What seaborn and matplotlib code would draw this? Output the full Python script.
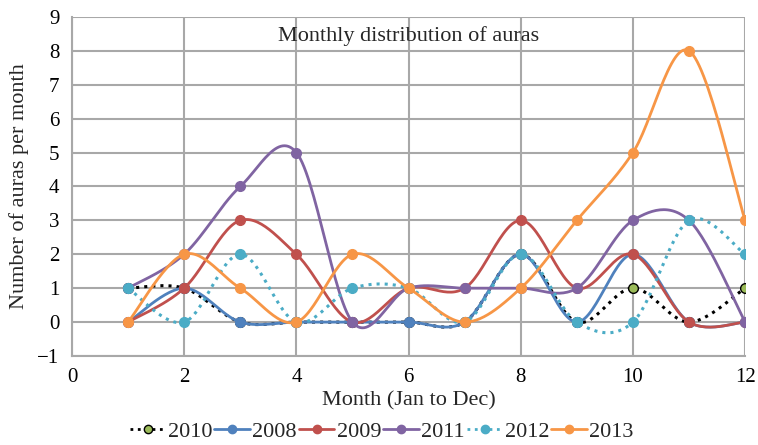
import numpy as np
import matplotlib
matplotlib.use("Agg")
import matplotlib.pyplot as plt
import seaborn as sns

# -----------------------------
# Data
# -----------------------------
months = [1, 2, 3, 4, 5, 6, 7, 8, 9, 10, 11, 12]
auras_2010 = [1, 1, 0, 0, 0, 0, 0, 2, 0, 1, 0, 1]
auras_2008 = [0, 1, 0, 0, 0, 0, 0, 2, 0, 2, 0, 0]
auras_2009 = [0, 1, 3, 2, 0, 1, 1, 3, 1, 2, 0, 0]
auras_2011 = [1, 2, 4, 5, 0, 1, 1, 1, 1, 3, 3, 0]
auras_2012 = [1, 0, 2, 0, 1, 1, 0, 2, 0, 0, 3, 2]
auras_2013 = [0, 2, 1, 0, 2, 1, 0, 1, 3, 5, 8, 3]

series = [
    ("2010", auras_2010, "black", ":", "#9BBB59", "black"),
    ("2008", auras_2008, "#4F81BD", "-", "#4F81BD", "#4F81BD"),
    ("2009", auras_2009, "#C0504D", "-", "#C0504D", "#C0504D"),
    ("2011", auras_2011, "#8064A2", "-", "#8064A2", "#8064A2"),
    ("2012", auras_2012, "#4BACC6", ":", "#4BACC6", "#4BACC6"),
    ("2013", auras_2013, "#F79646", "-", "#F79646", "#F79646"),
]


def smooth(x, y, n=30):
    # Excel-like smoothed line (Catmull-Rom as cubic Bezier)
    x = np.asarray(x, float)
    y = np.asarray(y, float)
    px = np.concatenate([[x[0]], x, [x[-1]]])
    py = np.concatenate([[y[0]], y, [y[-1]]])
    t = np.linspace(0, 1, n)[:, None]
    xs, ys = [], []
    for i in range(1, len(px) - 2):
        p0 = np.array([px[i], py[i]])
        p3 = np.array([px[i + 1], py[i + 1]])
        c1 = p0 + (p3 - np.array([px[i - 1], py[i - 1]])) / 6
        c2 = p3 - (np.array([px[i + 2], py[i + 2]]) - p0) / 6
        b = ((1 - t) ** 3) * p0 + 3 * ((1 - t) ** 2) * t * c1 \
            + 3 * (1 - t) * t ** 2 * c2 + t ** 3 * p3
        xs.append(b[:, 0])
        ys.append(b[:, 1])
    return np.concatenate(xs), np.concatenate(ys)


# -----------------------------
# Setup
# -----------------------------
sns.set_theme(style="whitegrid")
plt.rcParams["font.family"] = ["Liberation Serif", "DejaVu Serif"]

fig, ax = plt.subplots(figsize=(7.58, 4.45), dpi=100)
fig.subplots_adjust(left=0.095, right=0.983, top=0.962, bottom=0.2)

for name, vals, color, ls, mfc, mec in series:
    sx, sy = smooth(months, vals)
    ax.plot(sx, sy, color=color, linestyle=ls, lw=2.2 if ls == ":" else 2)
    ax.plot(months, vals, linestyle="none", marker="o", markersize=7,
            markerfacecolor=mfc, markeredgecolor=mec, markeredgewidth=1)

handles = [
    plt.Line2D([], [], color=c, linestyle=ls, lw=2, marker="o", markersize=6,
               markerfacecolor=mfc, markeredgecolor=mec)
    for _, _, c, ls, mfc, mec in series
]
ax.legend(handles, [s[0] for s in series], loc="upper center",
          bbox_to_anchor=(0.46, -0.16), ncol=6, frameon=False, fontsize=16,
          handlelength=1.6, handletextpad=0.1, columnspacing=0.1,
          borderpad=0.0)

ax.set_xlim(0, 12)
ax.set_ylim(-1, 9)
ax.set_xticks(range(0, 13, 2))
ax.set_yticks(range(-1, 10))
ax.set_yticklabels(["\u22121"] + [str(v) for v in range(0, 10)])
ax.grid(True, color="#A8A8A8", lw=1.5)
ax.set_axisbelow(True)
for side in ["top", "right"]:
    ax.spines[side].set_visible(False)
for side in ["left", "bottom"]:
    ax.spines[side].set_color("#A8A8A8")
    ax.spines[side].set_linewidth(1.5)
ax.tick_params(axis="both", labelsize=15, colors="black", length=5,
               color="#A8A8A8", width=1.5, pad=4)

ax.text(0.5, 0.945, "Monthly distribution of auras", transform=ax.transAxes,
        ha="center", va="center", fontsize=16)
ax.set_xlabel("Month (Jan to Dec)", fontsize=16, labelpad=3)
ax.set_ylabel("Number of auras per month", fontsize=16, labelpad=6)

plt.savefig("out.png", dpi=100)
